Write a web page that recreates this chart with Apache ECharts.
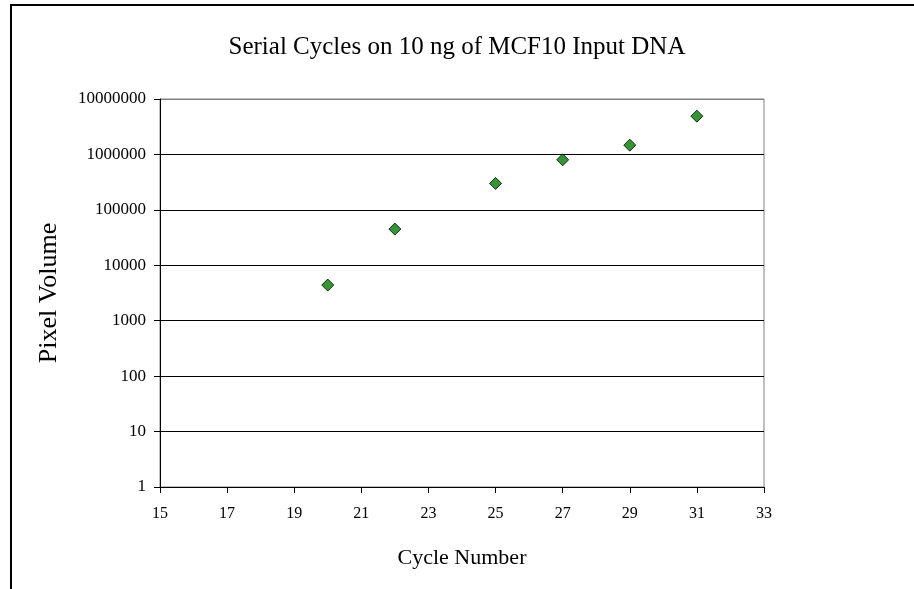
<!DOCTYPE html>
<html style="height: 100%">
<head>
    <meta charset="utf-8">
    <script src="https://cdn.jsdelivr.net/npm/echarts@6/dist/echarts.min.js"></script>
</head>
<body style="height: 100%; margin: 0; background: #fff">
<div id="container" style="width: 914px; height: 589px"></div>
<script type="text/javascript">
    // cycle number vs pixel volume (log scale)
    var cycles = [20, 22, 25, 27, 29, 31];
    var volumes = [4400, 45000, 300000, 800000, 1470000, 4900000];
    var xTicks = [15, 17, 19, 21, 23, 25, 27, 29, 31, 33];
    var yTicks = [1, 10, 100, 1000, 10000, 100000, 1000000, 10000000];

    var font = "'Liberation Serif', 'Times New Roman', serif";
    var points = cycles.map(function (c, i) { return [c, volumes[i]]; });

    var myChart = echarts.init(document.getElementById('container'));
    var option = {
        animation: false,
        backgroundColor: '#fff',
        title: {
            text: 'Serial Cycles on 10 ng of MCF10 Input DNA',
            left: 'center',
            top: 30,
            textStyle: {fontFamily: font, fontSize: 25, fontWeight: 'normal', color: '#000'}
        },
        graphic: [{
            type: 'rect',
            shape: {x: 11, y: 5, width: 1000, height: 1000},
            style: {fill: null, stroke: '#000', lineWidth: 2}
        }],
        grid: {
            left: 160, top: 99, right: 150, bottom: 102,
            show: true, borderColor: '#808080', borderWidth: 1
        },
        xAxis: {
            type: 'value',
            min: xTicks[0],
            max: xTicks[xTicks.length - 1],
            interval: 2,
            name: 'Cycle Number',
            nameLocation: 'middle',
            nameGap: 60,
            nameTextStyle: {fontFamily: font, fontSize: 22, color: '#000'},
            axisLine: {lineStyle: {color: '#000'}},
            axisTick: {length: 6, lineStyle: {color: '#000'}},
            axisLabel: {fontFamily: font, fontSize: 16, color: '#000', margin: 19},
            splitLine: {show: false}
        },
        yAxis: {
            type: 'log',
            logBase: 10,
            min: yTicks[0],
            max: yTicks[yTicks.length - 1],
            interval: 1,
            name: 'Pixel Volume',
            nameLocation: 'middle',
            nameGap: 98,
            nameTextStyle: {fontFamily: font, fontSize: 26, color: '#000'},
            axisLine: {show: true, lineStyle: {color: '#000'}},
            axisTick: {show: true, length: 6, lineStyle: {color: '#000'}},
            axisLabel: {
                fontFamily: font, fontSize: 17, color: '#000', margin: 14,
                formatter: function (v) { return String(Math.round(v)); }
            },
            splitLine: {
                show: true,
                lineStyle: {color: ['#000', '#000', '#000', '#000', '#000', '#000', '#000', '#808080'], width: 1}
            }
        },
        series: [{
            type: 'scatter',
            data: points,
            symbol: 'diamond',
            symbolSize: 12,
            itemStyle: {color: '#007a00', borderColor: '#000', borderWidth: 1}
        }]
    };
    myChart.setOption(option, true);
</script>
</body>
</html>
